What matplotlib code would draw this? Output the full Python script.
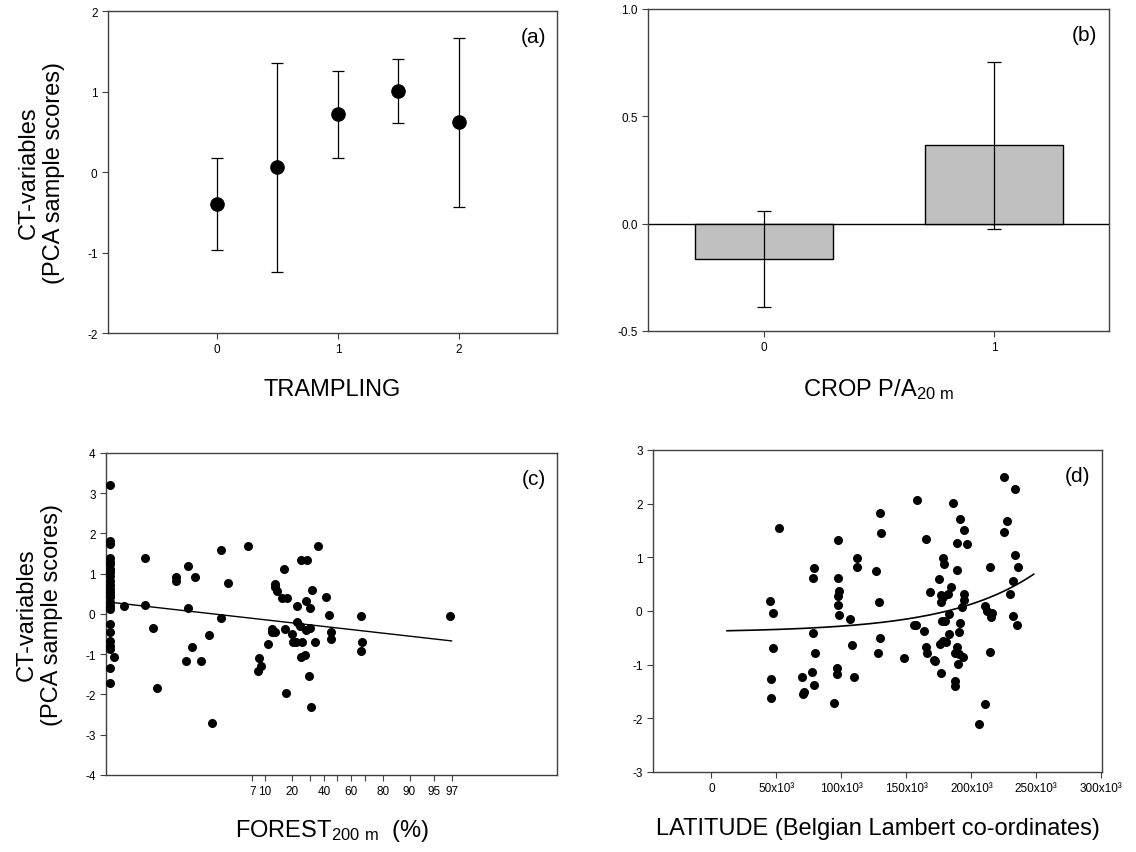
import numpy as np
import matplotlib
matplotlib.use("Agg")
import matplotlib.pyplot as plt
from matplotlib.ticker import NullLocator, FixedLocator

plt.rcParams["font.family"] = ["Liberation Sans", "DejaVu Sans"]
plt.rcParams["mathtext.fontset"] = "custom"
plt.rcParams["mathtext.rm"] = "Liberation Sans"
plt.rcParams["mathtext.default"] = "rm"
plt.rcParams["axes.unicode_minus"] = False

# -----------------------------
# data
# -----------------------------
# (a) trampling classes: mean +/- error
trampling_x = [0, 0.5, 1, 1.5, 2]
trampling_mean = [-0.40, 0.06, 0.72, 1.01, 0.62]
trampling_err = [0.57, 1.30, 0.54, 0.40, 1.05]

# (b) crop P/A
crop_x = [0, 1]
crop_mean = [-0.165, 0.365]
crop_err = [0.225, 0.39]

# (c) forest cover (%) vs score
forest_pct = [0.1, 0.1, 0.1, 0.1, 0.1, 0.1, 0.1, 0.1, 0.1, 0.1, 0.1, 0.1, 0.1,
              0.1, 0.1, 0.1, 0.1, 0.1, 0.1, 0.1, 0.1, 0.1, 0.1, 0.1, 0.1, 0.11,
              0.15, 0.29, 0.29, 0.37, 0.41, 0.73, 0.74, 1.05, 1.05, 0.98, 1.29,
              1.2, 1.55, 2.0, 2.13, 2.85, 3.5, 2.8, 6.1, 8.4, 8.9, 8.3, 10.8,
              12.9, 13.1, 13.7, 12.2, 12.0, 12.9, 16.4, 15.8, 17.8, 17.1, 17.3,
              20.1, 20.5, 22.0, 22.6, 22.6, 24.5, 25.6, 24.8, 27.1, 27.6, 30.5,
              29.6, 33.7, 31.1, 25.1, 28.4, 35.7, 27.6, 30.5, 31.9, 41.2, 43.6,
              45.4, 45.0, 67.5, 67.7, 67.0, 96.9]
forest_score = [3.21, 1.82, 1.74, 1.40, 1.24, 1.12, 0.95, 0.83, 0.71, 0.54, 0.42,
                0.29, 0.12, 1.30, 1.05, 0.62, 0.48, 0.20, -0.25, -0.46, -0.66,
                -0.79, -0.87, -1.35, -1.72, -1.08,
                0.19, 1.39, 0.23, -0.36, -1.84, 0.91, 0.83, 1.18, 0.14, -1.16, 0.93,
                -0.83, -1.16, -0.52, -2.72, 1.59, 0.76, -0.10, 1.70, -1.09, -1.29,
                -1.41, -0.74, 0.74, 0.66, 0.56, -0.37, -0.46, -0.44, 1.12, 0.39,
                0.39, -0.37, -1.97, -0.49, -0.69, -0.70, 0.21, -0.19, -0.29, -0.69,
                -1.08, -1.03, -0.41, -0.36, -1.53, -0.69, -2.31, 1.34, 1.34, 1.70,
                0.31, 0.16, 0.60, 0.41, -0.02, -0.44, -0.62, -0.06, -0.70, -0.91,
                -0.06]
# regression on logit scale, drawn from 0.1 % to 97 %
forest_fit_range = [0.1, 97.0]
forest_fit_intercept = -0.348
forest_fit_slope = -0.0925

# (d) latitude (x 1000 m) vs score
lat_k = [45.4, 47.4, 52.3, 47.2, 45.9, 46.1,
         79.2, 78.2, 78.0, 79.5, 77.4, 70.0, 78.7, 71.5, 70.5,
         97.4, 97.7, 98.2, 97.2, 97.5, 98.4, 94.1, 96.4, 96.8,
         107.0, 108.5, 110.0, 111.8, 112.3,
         126.4, 130.0, 130.5, 129.2, 129.4, 128.5,
         148.0, 158.2, 165.4, 156.0, 157.8, 163.3, 168.5,
         165.4, 165.6, 171.0, 172.3, 177.0,
         186.0, 191.0, 194.0, 189.0, 196.7, 178.2, 179.0, 189.0, 175.4, 184.4,
         176.8, 178.0, 181.8, 194.0, 194.5, 192.7, 176.8, 182.6, 179.8, 177.2,
         191.5, 182.6, 190.2, 178.5, 176.0, 180.5, 189.0, 190.2,
         187.7, 193.6, 190.0, 187.7, 187.7,
         210.2, 212.0, 215.8, 215.4, 214.0, 214.6, 210.8, 206.2,
         224.9, 233.8, 227.4, 225.4, 233.8, 235.9, 232.0, 229.8, 232.0, 235.0]
lat_score = [0.18, -0.04, 1.54, -0.69, -1.26, -1.63,
             0.80, 0.62, -0.41, -0.79, -1.13, -1.23, -1.37, -1.51, -1.55,
             1.33, 0.61, 0.38, 0.27, 0.12, -0.07, -1.71, -1.07, -1.18,
             -0.15, -0.64, -1.23, 0.98, 0.82,
             0.74, 1.82, 1.46, 0.16, -0.51, -0.78,
             -0.88, 2.06, 1.34, -0.26, -0.26, -0.38, 0.35,
             -0.68, -0.78, -0.91, -0.94, -1.16,
             2.01, 1.71, 1.51, 1.27, 1.24, 0.99, 0.87, 0.77, 0.60, 0.44,
             0.30, 0.26, 0.32, 0.32, 0.20, 0.07, 0.16, -0.06, -0.18, -0.18,
             -0.23, -0.43, -0.39, -0.55, -0.61, -0.58, -0.68, -0.81,
             -0.78, -0.86, -0.98, -1.31, -1.40,
             0.10, 0.00, -0.03, -0.11, 0.82, -0.76, -1.73, -2.10,
             2.49, 2.27, 1.67, 1.47, 1.04, 0.82, 0.56, 0.31, -0.09, -0.26]
# exponential fit y = a + b*exp(k*x), drawn from 12 km to 248 km
lat_fit_range = [12000, 248000]
lat_fit_a = -0.40
lat_fit_b = 0.0263
lat_fit_k = 1.5e-5

ylabel = "CT-variables\n(PCA sample scores)"
spine_col = "#404040"

fig = plt.figure(figsize=(11.36, 8.53), dpi=100)
ax_a = fig.add_axes([0.0951, 0.6084, 0.3952, 0.3775])
ax_b = fig.add_axes([0.5704, 0.6108, 0.4058, 0.3775])
ax_c = fig.add_axes([0.0933, 0.0903, 0.3970, 0.3775])
ax_d = fig.add_axes([0.5748, 0.0938, 0.3952, 0.3775])


def style(ax, letter):
    for s in ax.spines.values():
        s.set_color(spine_col)
        s.set_linewidth(1.0)
    ax.tick_params(direction="out", length=4, width=0.8, colors=spine_col,
                   labelsize=8.5, labelcolor="black")
    ax.text(0.975, 0.95, letter, transform=ax.transAxes, ha="right", va="top",
            fontsize=15)


# (a)
ax_a.errorbar(trampling_x, trampling_mean, yerr=trampling_err, fmt="o",
              color="black", ms=9.5, ecolor="black", elinewidth=0.9,
              capsize=4, capthick=0.9)
ax_a.set_xlim(-0.9, 2.81)
ax_a.set_ylim(-2, 2)
ax_a.set_xticks([0, 1, 2])
ax_a.set_yticks([-2, -1, 0, 1, 2])
ax_a.set_xlabel("TRAMPLING", fontsize=17, labelpad=16)
ax_a.set_ylabel(ylabel, fontsize=17, labelpad=16)
style(ax_a, "(a)")

# (b)
ax_b.bar(crop_x, crop_mean, width=0.6, color="#c0c0c0", edgecolor="black",
         linewidth=1.0, zorder=2)
ax_b.errorbar(crop_x, crop_mean, yerr=crop_err, fmt="none", ecolor="black",
              elinewidth=0.9, capsize=5, capthick=0.9, zorder=3)
ax_b.axhline(0, color="black", linewidth=1.0, zorder=1)
ax_b.set_xlim(-0.504, 1.5)
ax_b.set_ylim(-0.5, 1.0)
ax_b.set_xticks([0, 1])
ax_b.set_yticks([-0.5, 0.0, 0.5, 1.0])
ax_b.set_yticklabels(["-0.5", "0.0", "0.5", "1.0"])
ax_b.set_xlabel(r"CROP P/A$_{\mathrm{20\ m}}$", fontsize=17, labelpad=16)
style(ax_b, "(b)")

# (c)
forest_frac = np.array(forest_pct) / 100.0
ax_c.set_xscale("logit")
ax_c.scatter(forest_frac, forest_score, s=30, color="black", zorder=3)
fit_p = np.array(forest_fit_range) / 100.0
fit_logit = np.log(fit_p / (1 - fit_p))
ax_c.plot(fit_p, forest_fit_intercept + forest_fit_slope * fit_logit,
          color="black", linewidth=1.0)
ax_c.set_xlim(0.000875, 0.99875)
ax_c.set_ylim(-4, 4)
forest_ticks = [7, 10, 20, 30, 40, 50, 60, 70, 80, 90, 95, 97]
forest_labels = ["7", "10", "20", "", "40", "", "60", "", "80", "90", "95", "97"]
ax_c.xaxis.set_major_locator(FixedLocator([t / 100.0 for t in forest_ticks]))
ax_c.xaxis.set_minor_locator(NullLocator())
ax_c.set_xticklabels(forest_labels)
ax_c.set_yticks([-4, -3, -2, -1, 0, 1, 2, 3, 4])
ax_c.set_xlabel(r"FOREST$_{\mathrm{200\ m}}$  (%)", fontsize=17, labelpad=14)
ax_c.set_ylabel(ylabel, fontsize=17, labelpad=16)
style(ax_c, "(c)")

# (d)
lat = np.array(lat_k) * 1000
ax_d.scatter(lat, lat_score, s=30, color="black", zorder=3)
xs = np.linspace(lat_fit_range[0], lat_fit_range[1], 200)
ax_d.plot(xs, lat_fit_a + lat_fit_b * np.exp(lat_fit_k * xs), color="black",
          linewidth=1.2)
ax_d.set_xlim(-45000, 300500)
ax_d.set_ylim(-3, 3)
lat_ticks = [0, 50000, 100000, 150000, 200000, 250000, 300000]
ax_d.set_xticks(lat_ticks)
ax_d.set_xticklabels(["0", "50x10³", "100x10³", "150x10³", "200x10³",
                      "250x10³", "300x10³"])
ax_d.set_yticks([-3, -2, -1, 0, 1, 2, 3])
ax_d.set_xlabel("LATITUDE (Belgian Lambert co-ordinates)", fontsize=17,
                labelpad=16)
style(ax_d, "(d)")

fig.savefig("out.png", dpi=100)
